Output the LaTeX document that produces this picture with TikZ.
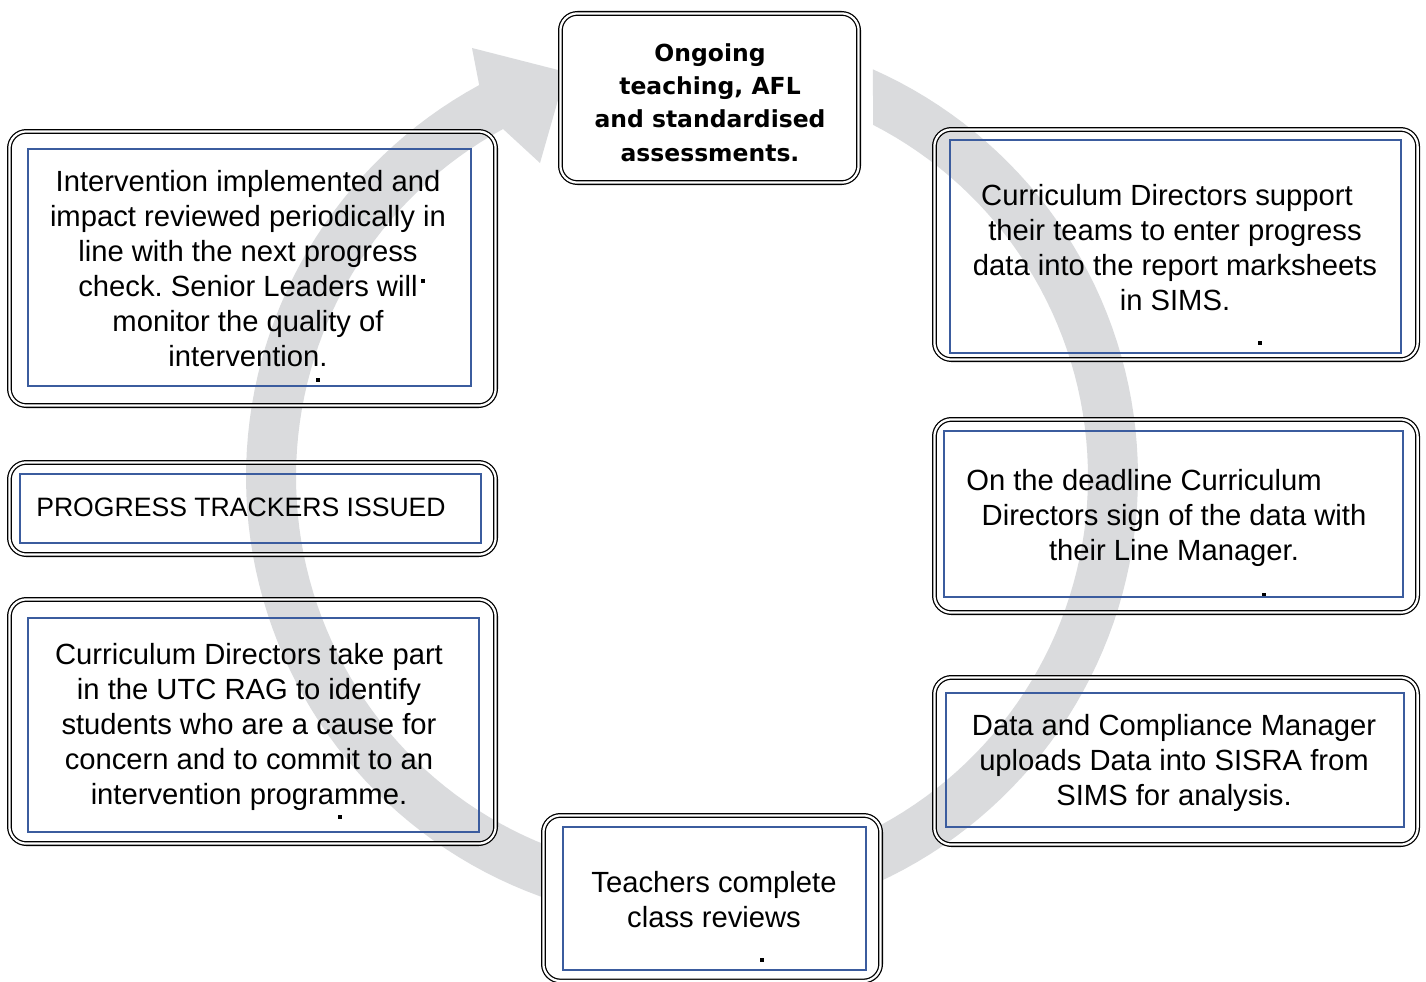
\documentclass[tikz,border=0pt]{standalone}
\usepackage{fontspec}
\setmainfont{Liberation Sans}
\newfontfamily\verd{DejaVu Sans}
\frenchspacing
\definecolor{ringgray}{RGB}{218,219,221}
\definecolor{boxblue}{RGB}{59,92,158}
\tikzset{
  outerbox/.style={draw=black, line width=0.95pt, double=white, double distance=1.7pt, rounded corners=12.75pt},
  bluebox/.style={draw=boxblue, line width=2pt},
  bodytext/.style={inner sep=0pt, align=center, font=\fontsize{21.9pt}{26.25pt}\selectfont},
  capstext/.style={inner sep=0pt, font=\fontsize{19.95pt}{24pt}\selectfont},
  boldtext/.style={inner sep=0pt, align=center, font=\verd\bfseries\fontsize{17.6pt}{25.1pt}\selectfont},
  dotmark/.style={fill=black}
}
\begin{document}
\begin{tikzpicture}[x=0.75pt,y=-0.75pt]
\useasboundingbox (0,0) rectangle (1426,981);
\fill[white] (0,0) rectangle (1426,981);
% ring with arrowhead
\fill[ringgray] plot[domain=-66.06:241.5, samples=160] ({692+446*cos(\x)},{477+446*sin(\x)})
  -- (472,48) -- (566,72) -- (540,163)
  -- plot[domain=241.5:-62.8, samples=160] ({692+396*cos(\x)},{477+396*sin(\x)}) -- cycle;
% boxes
\draw[outerbox, fill=white] (560.4,13.4) rectangle (858.6,182.6);
\draw[outerbox] (9.4,131.4) rectangle (495.6,405.6);
\draw[bluebox] (28,149) rectangle (471,386);
\draw[outerbox] (9.4,462.4) rectangle (495.6,554.6);
\draw[bluebox] (20,474) rectangle (481,543);
\draw[outerbox] (9.4,599.4) rectangle (495.6,843.6);
\draw[bluebox] (28,618) rectangle (479,832);
\draw[outerbox, fill=white] (543.4,815.4) rectangle (880.6,981);
\draw[bluebox] (563,827) rectangle (866,970);
\draw[outerbox] (934.4,129.4) rectangle (1417.6,359.6);
\draw[bluebox] (950,140) rectangle (1401,353);
\draw[outerbox] (934.4,419.4) rectangle (1417.6,612.6);
\draw[bluebox] (944,431) rectangle (1403,597);
\draw[outerbox] (934.4,677.4) rectangle (1417.6,844.6);
\draw[bluebox] (946,693) rectangle (1404,827);
% texts
\node[boldtext] (ongoing) at (710,102.5) {Ongoing\\teaching, AFL\\and standardised\\assessments.};
\node[bodytext] (interv) at (248,268.5) {Intervention implemented and\\impact reviewed periodically in\\line with the next progress\\check. Senior Leaders will\\monitor the quality of\\intervention.};
\node[capstext, anchor=west] (trackers) at (36,507) {PROGRESS TRACKERS ISSUED};
\node[bodytext] (rag) at (249,726.5) {Curriculum Directors take part\\in the UTC RAG to identify\\students who are a cause for\\concern and to commit to an\\intervention programme.};
\node[bodytext] (teachers) at (714,899.5) {Teachers complete\\class reviews};
\node[bodytext] (support) at (1175,247.5) {Curriculum Directors support\hspace*{12pt}\\their teams to enter progress\\data into the report marksheets\\in SIMS.};
\node[bodytext] (deadline) at (1174,518) {On the deadline Curriculum\hspace*{45pt}\\Directors sign of the data with\\their Line Manager.};
\node[bodytext] (sisra) at (1174,762.5) {Data and Compliance Manager\\uploads Data into SISRA from\\SIMS for analysis.};
% stray dots
\fill[dotmark] (316,378) rectangle (320,382);
\fill[dotmark] (421,279) rectangle (425,283);
\fill[dotmark] (1258,341) rectangle (1262,345);
\fill[dotmark] (1262,593) rectangle (1266,596);
\fill[dotmark] (760,958) rectangle (764,962);
\fill[dotmark] (338,815) rectangle (342,819);
\end{tikzpicture}
\end{document}
